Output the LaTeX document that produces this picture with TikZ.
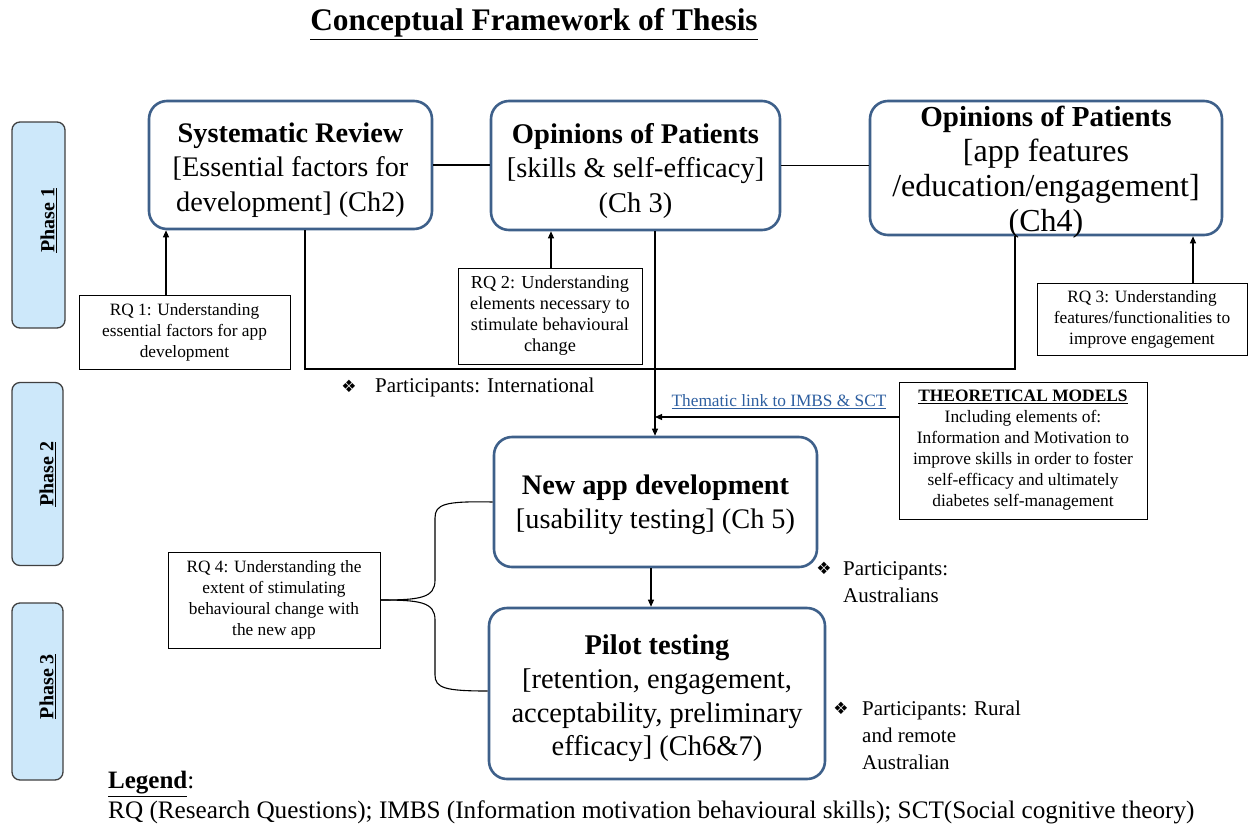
\documentclass[tikz,border=0pt]{standalone}
\usepackage{fontspec}
\setmainfont{Liberation Serif}
\newfontfamily\dejavu{DejaVu Sans}
\usetikzlibrary{arrows.meta,calc}
\definecolor{boxblue}{RGB}{62,96,138}
\definecolor{phasefill}{RGB}{205,232,250}
\definecolor{linkblue}{RGB}{46,95,160}
\newcommand{\fs}[2]{\fontsize{#1}{#2}\selectfont}
\newcommand{\dia}{{\dejavu\fs{17}{17}\char"2756}}
\begin{document}
\begin{tikzpicture}[x=1pt,y=-1pt,
 mainbox/.style={draw=boxblue, line width=2.6pt, rounded corners=18pt, inner sep=0pt, fill=white},
 boxtxt/.style={align=center, inner sep=0pt},
 rqbox/.style={draw=black, line width=1pt, align=center, inner sep=0pt, font=\fs{17.3}{21}},
 phasebox/.style={draw=black!75, fill=phasefill, line width=1.3pt, rounded corners=8pt, inner sep=0pt},
 phasetxt/.style={rotate=90, inner sep=0pt, font=\fs{20}{20}\bfseries},
 conn/.style={line width=1.1pt},
 arr/.style={conn, -{Triangle[length=7pt,width=6pt]}},
 ptxt/.style={anchor=north west, align=left, inner sep=0pt, font=\fs{21}{27}},
 diam/.style={inner sep=0pt}
]
\useasboundingbox (0,0) rectangle (1250,828);

% title
\node[font=\fs{31.4}{34}\bfseries, inner sep=0pt] (title) at (534,24) {\underline{Conceptual Framework of Thesis}};

% phase boxes
\node[phasebox, minimum width=53pt, minimum height=206pt] (P1) at (38.5,225) {};
\node[phasebox, minimum width=51pt, minimum height=183pt] (P2) at (37.5,474) {};
\node[phasebox, minimum width=51pt, minimum height=177pt] (P3) at (37.5,691.5) {};
\node[phasetxt] (P1t) at ($(P1.center)+(10,-5)$) {\underline{Phase 1}};
\node[phasetxt] (P2t) at ($(P2.center)+(10,0)$) {\underline{Phase 2}};
\node[phasetxt] (P3t) at ($(P3.center)+(10,-5)$) {\underline{Phase 3}};

% main boxes
\node[mainbox, minimum width=283pt, minimum height=128pt] (SR) at (290.5,165) {};
\node[boxtxt, font=\fs{28.3}{34.5}] (SRt) at ($(SR.center)+(0,5)$)
 {\textbf{Systematic Review}\\{[}Essential factors for\\development{]} (Ch2)};
\node[mainbox, minimum width=289pt, minimum height=129pt] (OP1) at (635.5,165.5) {};
\node[boxtxt, font=\fs{28.5}{34.5}] (OP1t) at ($(OP1.center)+(0,5)$)
 {\textbf{Opinions of Patients}\\{[}skills \& self-efficacy{]}\\(Ch 3)};
\node[mainbox, minimum width=352pt, minimum height=134pt] (OP2) at (1046,168) {};
\node[boxtxt, font=\fs{32}{35}] (OP2t) at ($(OP2.center)+(0,4)$)
 {{\fs{29}{35}\textbf{Opinions of Patients}}\\{[}app features\\/education/engagement{]}\\(Ch4)};
\node[mainbox, minimum width=323pt, minimum height=130pt] (NEW) at (655.5,502) {};
\node[boxtxt, font=\fs{28.3}{34}] (NEWt) at ($(NEW.center)+(0,3)$)
 {\textbf{New app development}\\{[}usability testing{]} (Ch 5)};
\node[mainbox, minimum width=336pt, minimum height=171pt] (PIL) at (657,693.5) {};
\node[boxtxt, font=\fs{28.5}{33.7}] (PILt) at ($(PIL.center)+(0,5)$)
 {\textbf{Pilot testing}\\{[}retention, engagement,\\acceptability, preliminary\\efficacy{]} (Ch6\&7)};

% RQ boxes
\node[rqbox, minimum width=211pt, minimum height=74pt] (RQ1) at (184.5,332)
 {RQ 1: Understanding\\essential factors for app\\development};
\node[rqbox, minimum width=184pt, minimum height=96pt, font=\fs{18.3}{21}] (RQ2) at (550,316)
 {RQ 2: Understanding\\elements necessary to\\stimulate behavioural\\change};
\node[rqbox, minimum width=210pt, minimum height=72pt] (RQ3) at (1142,319)
 {RQ 3: Understanding\\features/functionalities to\\improve engagement};
\node[rqbox, minimum width=212pt, minimum height=96pt] (RQ4) at (274,600)
 {RQ 4: Understanding the\\extent of stimulating\\behavioural change with\\the new app};
\node[rqbox, minimum width=248pt, minimum height=137pt, font=\fs{17.4}{21}] (THEO) at (1023,450.5)
 {\underline{\textbf{THEORETICAL MODELS}}\\Including elements of:\\Information and Motivation to\\improve skills in order to foster\\self-efficacy and ultimately\\diabetes self-management};

% helper coordinates
\coordinate (x1) at (166,0);
\coordinate (x2) at (551,0);
\coordinate (x3) at (1193,0);
\coordinate (x4) at (305,0);
\coordinate (x5) at (1015,0);
\coordinate (x6) at (655,0);
\coordinate (x7) at (651,0);
\coordinate (yb) at (0,369);
\coordinate (yt) at (0,417);

% connectors
\draw[conn] (SR.east) -- (SR.east -| OP1.west);
\draw[conn] (OP1.east) -- (OP1.east -| OP2.west);
\draw[arr] (RQ1.north -| x1) -- (SR.south -| x1);
\draw[arr] (RQ2.north -| x2) -- (OP1.south -| x2);
\draw[arr] (RQ3.north -| x3) -- (OP2.south -| x3);
\draw[conn] (SR.south -| x4) -- (x4 |- yb) -- (x5 |- yb) -- (OP2.south -| x5);
\draw[arr] (OP1.south -| x6) -- (NEW.north -| x6);
\draw[arr] (THEO.west |- yt) -- (x6 |- yt);
\draw[arr] (NEW.south -| x7) -- (PIL.north -| x7);

% brace
\draw[conn] (RQ4.east) .. controls (420,600) and (435,598) .. (435,580) -- (435,518)
  .. controls (435,504) and (445,501) .. (NEW.west);
\draw[conn] (RQ4.east) .. controls (420,600) and (435,602) .. (435,620) -- (435,675)
  .. controls (435,688) and (445,691) .. (PIL.west |- 0,691);

% labels
\node[font=\fs{17.3}{17}, text=linkblue, inner sep=0pt] (TL) at (779,402) {\underline{Thematic link to IMBS \& SCT}};

\node[diam] (d1) at (349,386) {\dia};
\node[ptxt] (pi) at (375,378) {Participants: International};
\node[diam] (d2) at (824,568) {\dia};
\node[ptxt] (pa) at (843,561) {Participants:\\Australians};
\node[diam] (d3) at (841,708) {\dia};
\node[ptxt] (pr) at (862,701) {Participants: Rural\\and remote\\Australian};

% legend
\node[anchor=west, inner sep=0pt, font=\fs{25}{28}] (lg1) at (108,784) {\textbf{\underline{Legend}}:};
\node[anchor=west, inner sep=0pt, font=\fs{25.2}{28}] (lg2) at (108,812) {RQ (Research Questions); IMBS (Information motivation behavioural skills); SCT(Social cognitive theory)};
\end{tikzpicture}
\end{document}
